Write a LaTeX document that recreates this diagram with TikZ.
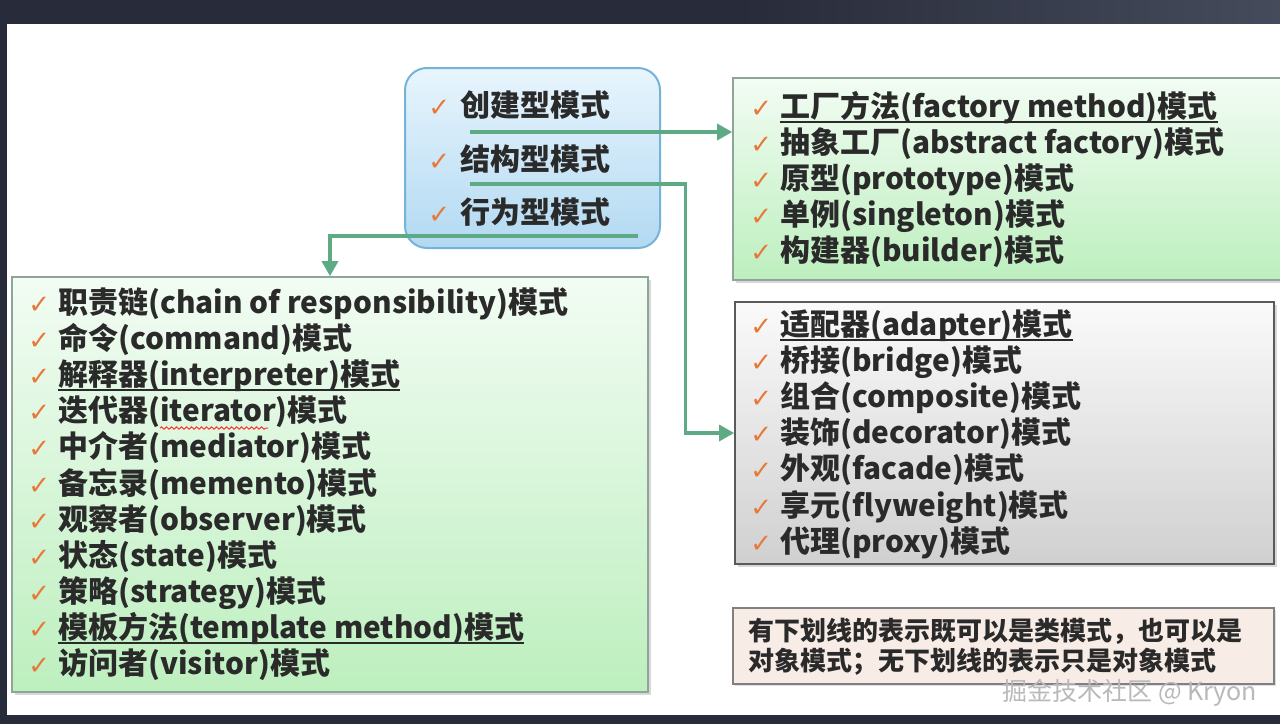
\documentclass[tikz,border=0pt]{standalone}
\usepackage{fontspec}
\newfontfamily\cjk{Noto Sans CJK SC}
\newfontfamily\sym{DejaVu Sans}
\usetikzlibrary{arrows.meta,shadows,decorations.pathmorphing}

\definecolor{frame}{HTML}{272B3A}
\definecolor{frameR}{HTML}{464B5B}
\definecolor{ink}{HTML}{2A2A2A}
\definecolor{tick}{HTML}{E8783A}
\definecolor{linkc}{HTML}{5DAA84}
\definecolor{catTop}{HTML}{E8F5FD}
\definecolor{catBot}{HTML}{B2D9F2}
\definecolor{catEdge}{HTML}{76B3D9}
\definecolor{grnTop}{HTML}{F2FCF3}
\definecolor{grnBot}{HTML}{BDEFBE}
\definecolor{grnEdge}{HTML}{8FA59A}
\definecolor{gryTop}{HTML}{FAFAFA}
\definecolor{gryBot}{HTML}{D0D0D0}
\definecolor{gryEdge}{HTML}{5A5A5A}
\definecolor{noteFill}{HTML}{F8ECE6}

% 勾号、下划线、条目
\newcommand\chk{\makebox[15pt][l]{\sym\mdseries\fontsize{13}{13}\selectfont\color{tick}✓}}
\newcommand\uln[1]{\setbox0\hbox{#1}\rlap{\rule[-2.6pt]{\wd0}{0.8pt}}\box0}
\newcommand\pat[2]{{\cjk #1}{\cjk\fontsize{14.9}{18}\selectfont(#2)}{\cjk 模式}}
\newcommand\upat[2]{\uln{\pat{#1}{#2}}}

\begin{document}
\begin{tikzpicture}[x=0.5pt,y=-0.5pt,
  font=\fontsize{15}{18}\selectfont\bfseries,
  catbox/.style={draw=catEdge, line width=1pt, rounded corners=11pt,
    top color=catTop, bottom color=catBot, inner sep=0pt},
  greenbox/.style={draw=grnEdge, line width=0.8pt, top color=grnTop,
    bottom color=grnBot, inner sep=0pt,
    drop shadow={opacity=0.3, shadow xshift=1.5pt, shadow yshift=-1.5pt}},
  graybox/.style={draw=gryEdge, line width=0.9pt, top color=gryTop,
    bottom color=gryBot, inner sep=0pt,
    drop shadow={opacity=0.3, shadow xshift=1.5pt, shadow yshift=-1.5pt}},
  notebox/.style={draw=gray, line width=0.8pt, fill=noteFill, inner sep=0pt,
    drop shadow={opacity=0.25, shadow xshift=1.2pt, shadow yshift=-1.2pt}},
  item/.style={anchor=base west, inner sep=0pt, text=ink},
  link/.style={draw=linkc, line width=1.6pt, -{Triangle[length=7.5pt,width=8pt]}}]
  \useasboundingbox (0,0) rectangle (1280,724);
  % 屏幕边框
  \fill[frame] (0,0) rectangle (1280,724);
  \shade[left color=frame, right color=frameR] (740,0) rectangle (1280,24);
  \fill[white] (7,24) rectangle (1280,715);

  % 方框
  \node[catbox, minimum width=127.5pt, minimum height=90pt] (kinds) at (532.5,158) {};
  \node[greenbox, minimum width=280pt, minimum height=101pt] (creat) at (1013,179) {};
  \node[graybox, minimum width=269.5pt, minimum height=131pt] (struct) at (1004.5,433) {};
  \node[greenbox, minimum width=318pt, minimum height=207.5pt] (beh) at (330,484.5) {};
  \node[notebox, minimum width=270.5pt, minimum height=38pt] (note) at (1003.5,646) {};

  % 三大类
  \foreach \t [count=\i from 0] in {创建型模式, 结构型模式, 行为型模式}
    \node[item] (k\i) at (428, {116.5+53.5*\i}) {\makebox[16pt][l]{\chk}{\cjk\t}};

  % 创建型
  \foreach \t [count=\i from 0] in {{\upat{工厂方法}{factory method}},
      {\pat{抽象工厂}{abstract factory}}, {\pat{原型}{prototype}},
      {\pat{单例}{singleton}}, {\pat{构建器}{builder}}}
    \node[item] (cr\i) at (750, {117.5+36*\i}) {\chk\t};

  % 结构型
  \foreach \t [count=\i from 0] in {{\upat{适配器}{adapter}},
      {\pat{桥接}{bridge}}, {\pat{组合}{composite}}, {\pat{装饰}{decorator}},
      {\pat{外观}{facade}}, {\pat{享元}{flyweight}}, {\pat{代理}{proxy}}}
    \node[item] (st\i) at (750, {335.5+36.1*\i}) {\chk\t};

  % 行为型
  \foreach \t [count=\i from 0] in {{\pat{职责链}{chain of responsibility}},
      {\pat{命令}{command}}, {\upat{解释器}{interpreter}},
      {\pat{迭代器}{iterator}}, {\pat{中介者}{mediator}},
      {\pat{备忘录}{memento}}, {\pat{观察者}{observer}},
      {\pat{状态}{state}}, {\pat{策略}{strategy}},
      {\upat{模板方法}{template method}}, {\pat{访问者}{visitor}}}
    \node[item] (bh\i) at (28, {313.5+36.1*\i}) {\chk\t};
  \draw[red!80, line width=0.5pt, decorate,
    decoration={snake, amplitude=0.6pt, segment length=2.5pt}] (160,428) -- (268,428);

  % 说明
  \node[item, font=\cjk\fontsize{13}{15}\selectfont\bfseries] (n1) at (748,640)
    {有下划线的表示既可以是类模式，也可以是};
  \node[item, font=\cjk\fontsize{13}{15}\selectfont\bfseries] (n2) at (748,670)
    {对象模式；无下划线的表示只是对象模式};
  \node[anchor=base west, inner sep=0pt, text=gray!55,
    font=\cjk\fontsize{12.5}{13}\selectfont] (wm) at (1002,700) {掘金技术社区 @ Kryon};

  % 连线
  \coordinate (s1) at (470,132);
  \coordinate (s2) at (470,184);
  \coordinate (s3) at (638,236);
  \draw[link] (s1) -- (s1 -| creat.west);
  \draw[link] (s2) -| ([xshift=-24.5pt]struct.west) -- (struct.west);
  \draw[link] (s3) -| (beh.north);
\end{tikzpicture}
\end{document}
